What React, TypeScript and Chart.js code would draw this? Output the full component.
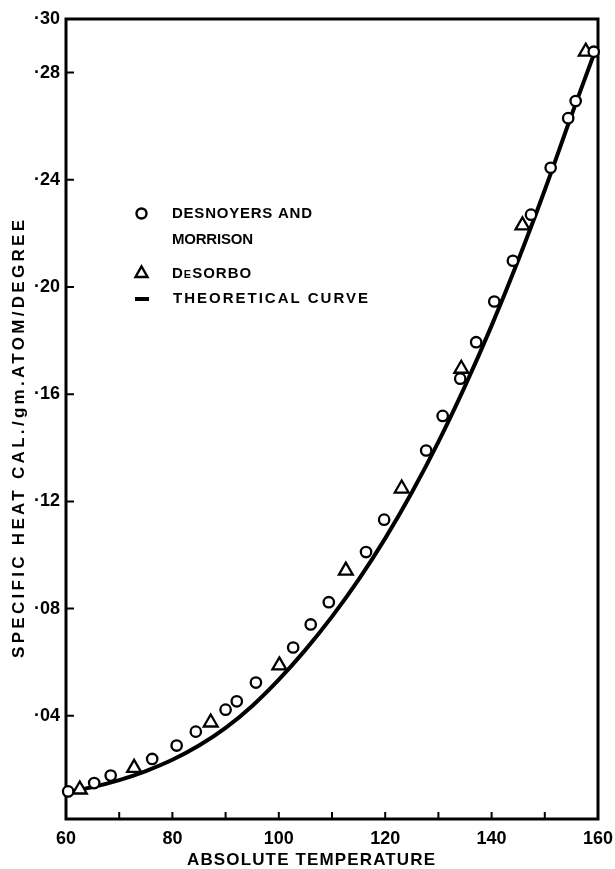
import React, { useEffect, useRef } from "react";
import { Chart, registerables } from "chart.js";

Chart.register(...registerables);

// ---- data ----
const desnoyersTemp = [60.4, 65.3, 68.4, 76.2, 80.8, 84.4, 90.0, 92.1, 95.7, 102.7, 106.0, 109.4, 116.4, 119.8, 127.7, 130.8, 134.1, 137.1, 140.5, 144.0, 147.4, 151.1, 154.4, 155.8, 159.2];
const desnoyersHeat = [0.0118, 0.0149, 0.0177, 0.0239, 0.0289, 0.0341, 0.0423, 0.0454, 0.0524, 0.0655, 0.0741, 0.0824, 0.1011, 0.1132, 0.139, 0.1519, 0.1658, 0.1794, 0.1946, 0.2098, 0.227, 0.2445, 0.263, 0.2694, 0.2878];
const desorboTemp = [62.6, 72.8, 87.2, 100.1, 112.6, 123.1, 134.3, 145.8, 157.7];
const desorboHeat = [0.0125, 0.0206, 0.0375, 0.0588, 0.0942, 0.1248, 0.1695, 0.223, 0.2878];
const theoryTemp = [60, 65, 70, 75, 80, 85, 90, 95, 100, 105, 110, 115, 120, 125, 130, 135, 140, 145, 150, 155, 159.3];
const theoryHeat = [0.0115, 0.0134, 0.016, 0.0194, 0.0236, 0.0289, 0.0355, 0.0437, 0.0535, 0.0646, 0.077, 0.0908, 0.1062, 0.1233, 0.1422, 0.163, 0.1856, 0.21, 0.2362, 0.264, 0.2872];

const xLabelTicks = [60, 80, 100, 120, 140, 160];
const xMarkTicks = [70, 80, 90, 100, 110, 120, 130, 140, 150];
const yLabelTicks = [0.04, 0.08, 0.12, 0.16, 0.2, 0.24, 0.28, 0.3];
const yMarkTicks = [0.04, 0.08, 0.12, 0.16, 0.2, 0.24, 0.28];

const seriesNames = ["DESNOYERS AND MORRISON", "DeSORBO", "THEORETICAL CURVE"];
const xTitle = "ABSOLUTE TEMPERATURE";
const yTitle = "SPECIFIC HEAT CAL./gm.ATOM/DEGREE";

const FONT = "'Liberation Sans', Arial, sans-serif";
const INK = "#000";

function drawSpaced(ctx: CanvasRenderingContext2D, text: string, x: number, cy: number, width: number) {
  (ctx as any).letterSpacing = "0px";
  const w = ctx.measureText(text).width;
  const sp = text.length > 1 ? (width - w) / (text.length - 1) : 0;
  (ctx as any).letterSpacing = sp + "px";
  ctx.textAlign = "left";
  ctx.textBaseline = "middle";
  ctx.fillText(text, x, cy);
  (ctx as any).letterSpacing = "0px";
}

const decor = {
  id: "decor",
  beforeDatasetsDraw(chart: any) {
    const { ctx, chartArea } = chart;
    const xs = chart.scales.x;
    const ys = chart.scales.y;
    ctx.save();
    ctx.strokeStyle = INK;
    ctx.lineWidth = 3;
    ctx.strokeRect(chartArea.left, chartArea.top, chartArea.right - chartArea.left, chartArea.bottom - chartArea.top);
    ctx.lineWidth = 2;
    ctx.beginPath();
    for (const v of xMarkTicks) {
      const px = xs.getPixelForValue(v);
      ctx.moveTo(px, chartArea.bottom);
      ctx.lineTo(px, chartArea.bottom - 7);
    }
    for (const v of yMarkTicks) {
      const py = ys.getPixelForValue(v);
      ctx.moveTo(chartArea.left, py);
      ctx.lineTo(chartArea.left + 8, py);
    }
    ctx.stroke();
    ctx.restore();
  },
  afterDraw(chart: any) {
    const { ctx } = chart;
    ctx.save();
    ctx.fillStyle = INK;
    ctx.strokeStyle = INK;

    // axis titles
    ctx.font = `bold 17px ${FONT}`;
    drawSpaced(ctx, xTitle, 187, 860, 248);
    ctx.save();
    ctx.translate(19.5, 439);
    ctx.rotate(-Math.PI / 2);
    drawSpaced(ctx, yTitle, -219, 0, 438);
    ctx.restore();

    // legend
    ctx.lineWidth = 2.4;
    ctx.beginPath();
    ctx.arc(141.5, 213.5, 5, 0, Math.PI * 2);
    ctx.stroke();
    ctx.font = `bold 15px ${FONT}`;
    drawSpaced(ctx, "DESNOYERS AND", 172, 214, 140);
    drawSpaced(ctx, "MORRISON", 172, 239.5, 81);

    ctx.beginPath();
    ctx.moveTo(135.5, 277);
    ctx.lineTo(147.5, 277);
    ctx.lineTo(141.5, 266.5);
    ctx.closePath();
    ctx.stroke();
    // DeSORBO with small-cap E
    ctx.textAlign = "left";
    ctx.textBaseline = "alphabetic";
    (ctx as any).letterSpacing = "1px";
    ctx.font = `bold 15px ${FONT}`;
    let x = 172;
    ctx.fillText("D", x, 277.5);
    x += ctx.measureText("D").width;
    ctx.font = `bold 11px ${FONT}`;
    ctx.fillText("E", x, 277.5);
    x += ctx.measureText("E").width;
    ctx.font = `bold 15px ${FONT}`;
    ctx.fillText("SORBO", x, 277.5);
    (ctx as any).letterSpacing = "0px";

    ctx.lineWidth = 4;
    ctx.beginPath();
    ctx.moveTo(135, 299);
    ctx.lineTo(149, 299);
    ctx.stroke();
    ctx.font = `bold 15px ${FONT}`;
    drawSpaced(ctx, "THEORETICAL CURVE", 173, 299, 195);
    ctx.restore();
  },
};

export default function App() {
  const ref = useRef<HTMLCanvasElement | null>(null);
  useEffect(() => {
    if (!ref.current) return;
    const chart = new Chart(ref.current, {
      type: "scatter",
      data: {
        datasets: [
          {
            label: seriesNames[0],
            data: desnoyersTemp.map((t, i) => ({ x: t, y: desnoyersHeat[i] })),
            pointStyle: "circle",
            pointRadius: 5.2,
            pointBorderWidth: 2.3,
            pointBackgroundColor: "#fff",
            pointBorderColor: INK,
            showLine: false,
            order: 1,
            clip: false as any,
          },
          {
            label: seriesNames[1],
            data: desorboTemp.map((t, i) => ({ x: t, y: desorboHeat[i] })),
            pointStyle: "triangle",
            pointRadius: 8,
            pointBorderWidth: 2.3,
            pointBackgroundColor: "#fff",
            pointBorderColor: INK,
            showLine: false,
            order: 2,
            clip: false as any,
          },
          {
            type: "line" as any,
            label: seriesNames[2],
            data: theoryTemp.map((t, i) => ({ x: t, y: theoryHeat[i] })),
            borderColor: INK,
            borderWidth: 4,
            pointRadius: 0,
            tension: 0.4,
            fill: false,
            order: 3,
          } as any,
        ],
      },
      options: {
        animation: false,
        responsive: false,
        maintainAspectRatio: false,
        layout: { padding: { top: 19, right: 17, left: 0, bottom: 0 } },
        plugins: { legend: { display: false }, tooltip: { enabled: false }, title: { display: false } },
        scales: {
          x: {
            type: "linear",
            min: 60,
            max: 160,
            grid: { display: false, drawTicks: false },
            border: { display: false },
            afterBuildTicks: (s: any) => {
              s.ticks = xLabelTicks.map((v) => ({ value: v }));
            },
            afterFit: (s: any) => {
              s.height = 50;
              s.paddingLeft = 0;
              s.paddingRight = 0;
            },
            ticks: {
              color: INK,
              padding: 9,
              maxRotation: 0,
              autoSkip: false,
              font: { family: FONT, size: 18, weight: "bold" },
            },
          },
          y: {
            type: "linear",
            min: 0.0015,
            max: 0.3,
            grid: { display: false, drawTicks: false },
            border: { display: false },
            afterBuildTicks: (s: any) => {
              s.ticks = yLabelTicks.map((v) => ({ value: v }));
            },
            afterFit: (s: any) => {
              s.width = 66;
              s.paddingTop = 0;
              s.paddingBottom = 0;
            },
            ticks: {
              color: INK,
              padding: 6,
              autoSkip: false,
              font: { family: FONT, size: 18, weight: "bold" },
              callback: (v: any) => "\u00B7" + String(Math.round(Number(v) * 100)).padStart(2, "0"),
            },
          },
        },
      },
      plugins: [decor],
    });
    return () => chart.destroy();
  }, []);
  return (
    <div style={{ position: "absolute", left: 0, top: 0, width: 615, height: 869, background: "#fff" }}>
      <canvas ref={ref} width={615} height={869} style={{ width: 615, height: 869, display: "block" }} />
    </div>
  );
}
